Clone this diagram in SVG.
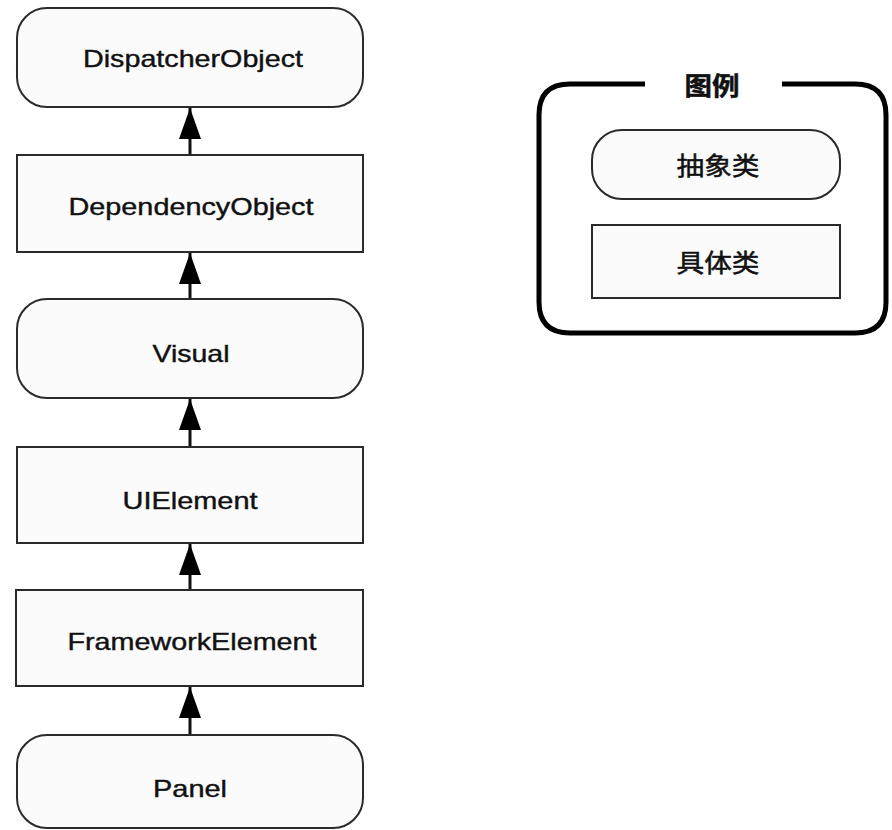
<svg xmlns="http://www.w3.org/2000/svg" width="892" height="830" viewBox="0 0 892 830">
<defs>
<style>
.node{fill:#fbfbfb;stroke:#2a2a2a;stroke-width:2}
.lbl{font-family:"Liberation Sans",Arial,sans-serif;font-size:24px;fill:#111;stroke:#111;stroke-width:0.4;text-anchor:middle}
.cjk{font-family:"Noto Sans CJK SC","Liberation Sans",sans-serif;font-size:25px;fill:#111;stroke:#111;stroke-width:0.5;text-anchor:middle}
.edge{stroke:#111;stroke-width:3;fill:none}
.legend{fill:none;stroke:#000;stroke-width:5}
</style>
<marker id="tri" viewBox="0 0 22 31" refX="11" refY="0" markerWidth="22" markerHeight="31" markerUnits="userSpaceOnUse" orient="0">
<path d="M11,0 L22,31 L0,31 Z" fill="#000"/>
</marker>
</defs>
<rect width="892" height="830" fill="#fff"/>
<g id="connectors">
<line class="edge" x1="190" y1="155" x2="190" y2="108" marker-end="url(#tri)"/>
<line class="edge" x1="190" y1="300" x2="190" y2="253" marker-end="url(#tri)"/>
<line class="edge" x1="190" y1="447" x2="190" y2="399" marker-end="url(#tri)"/>
<line class="edge" x1="190" y1="590" x2="190" y2="544" marker-end="url(#tri)"/>
<line class="edge" x1="190" y1="735" x2="190" y2="687" marker-end="url(#tri)"/>
</g>
<g id="n-dispatcher">
<rect class="node" x="17" y="8" width="346" height="99" rx="30"/>
<text class="lbl" x="193" y="67" textLength="220" lengthAdjust="spacingAndGlyphs">DispatcherObject</text>
</g>
<g id="n-dependency">
<rect class="node" x="17" y="155" width="346" height="97"/>
<text class="lbl" x="191" y="215" textLength="245" lengthAdjust="spacingAndGlyphs">DependencyObject</text>
</g>
<g id="n-visual">
<rect class="node" x="17" y="299" width="346" height="99" rx="30"/>
<text class="lbl" x="191" y="362" textLength="77" lengthAdjust="spacingAndGlyphs">Visual</text>
</g>
<g id="n-uielement">
<rect class="node" x="17" y="447" width="346" height="96"/>
<text class="lbl" x="190" y="509" textLength="135" lengthAdjust="spacingAndGlyphs">UIElement</text>
</g>
<g id="n-framework">
<rect class="node" x="16" y="590" width="347" height="96"/>
<text class="lbl" x="192" y="650" textLength="249" lengthAdjust="spacingAndGlyphs">FrameworkElement</text>
</g>
<g id="n-panel">
<rect class="node" x="17" y="735" width="346" height="93" rx="30"/>
<text class="lbl" x="190" y="797" textLength="74" lengthAdjust="spacingAndGlyphs">Panel</text>
</g>
<g id="legend">
<path class="legend" d="M645,84 L570,84 Q539,84 539,115 L539,302 Q539,333 570,333 L855,333 Q886,333 886,302 L886,115 Q886,84 855,84 L782,84"/>
<text class="cjk" x="712" y="95" font-weight="bold" textLength="55" lengthAdjust="spacingAndGlyphs">图例</text>
<g id="legend-abstract">
<rect class="node" x="592" y="130" width="248" height="69" rx="30"/>
<text class="cjk" x="718" y="175" textLength="83" lengthAdjust="spacingAndGlyphs">抽象类</text>
</g>
<g id="legend-concrete">
<rect class="node" x="592" y="225" width="248" height="73"/>
<text class="cjk" x="718" y="272" textLength="83" lengthAdjust="spacingAndGlyphs">具体类</text>
</g>
</g>
</svg>
